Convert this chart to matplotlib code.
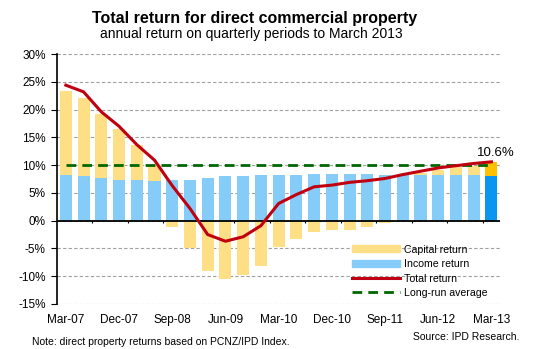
import matplotlib.pyplot as plt
import numpy as np
from matplotlib.patches import Patch
from matplotlib.lines import Line2D

plt.rcParams['font.family'] = ['Liberation Sans', 'DejaVu Sans']

quarters = ['Mar-07', 'Jun-07', 'Sep-07', 'Dec-07', 'Mar-08', 'Jun-08', 'Sep-08',
            'Dec-08', 'Mar-09', 'Jun-09', 'Sep-09', 'Dec-09', 'Mar-10', 'Jun-10',
            'Sep-10', 'Dec-10', 'Mar-11', 'Jun-11', 'Sep-11', 'Dec-11', 'Mar-12',
            'Jun-12', 'Sep-12', 'Dec-12', 'Mar-13']

# annual returns, %
income = [8.2, 8.0, 7.6, 7.4, 7.4, 7.1, 7.4, 7.4, 7.6, 8.0, 8.0, 8.2, 8.2,
          8.2, 8.4, 8.4, 8.4, 8.4, 8.2, 8.2, 8.2, 8.2, 8.2, 8.2, 8.0]
capital = [15.1, 14.1, 11.6, 9.1, 6.2, 2.9, -1.1, -4.9, -9.0, -10.5, -9.8,
           -8.1, -4.7, -3.3, -2.0, -1.6, -1.6, -1.1, -0.4, 0.0, 0.3, 0.9,
           1.4, 1.6, 2.6]
total = [24.4, 23.2, 19.6, 17.0, 13.7, 10.9, 6.3, 2.2, -2.5, -3.7, -2.9,
         -0.9, 3.1, 4.7, 6.1, 6.4, 6.9, 7.2, 7.6, 8.3, 8.9, 9.5, 9.9, 10.3, 10.6]
long_run_avg = 10.0

x = np.arange(len(quarters))
income = np.array(income)
capital = np.array(capital)

fig = plt.figure(figsize=(5.5, 3.49), dpi=100)
ax = fig.add_axes([0.1036, 0.129, 0.806, 0.716])

inc_col = ['#85CCF9'] * (len(x) - 1) + ['#0A96F0']
cap_col = ['#FFDF85'] * (len(x) - 1) + ['#FFC000']

# capital stacks on top of income when positive, hangs below zero when negative
cap_bottom = np.where(capital >= 0, income, 0)
ax.bar(x, income, width=0.68, color=inc_col, zorder=2)
ax.bar(x, capital, width=0.68, bottom=cap_bottom, color=cap_col, zorder=2)

ax.plot(x, total, color='#C00010', lw=2.2, zorder=4)
ax.plot(x, [long_run_avg] * len(x), color='#006600', lw=2.0,
        dashes=(3.5, 2.2), zorder=3)

ax.annotate('%.1f%%' % total[-1], (x[-1], total[-1]), xytext=(3.5, 2),
            textcoords='offset points', ha='center', va='bottom', fontsize=9.5)

ax.set_xlim(-0.5, len(x) - 0.5)
ax.set_ylim(-15, 30)
ax.set_yticks(np.arange(-15, 31, 5))
ax.set_yticklabels(['%d%%' % v for v in range(-15, 31, 5)], fontsize=8.5)
ax.set_xticks(x[::3])
ax.set_xticklabels(quarters[::3], fontsize=8.5)
ax.tick_params(axis='x', length=0, pad=7)
ax.tick_params(axis='y', length=4, width=0.8, pad=4)

ax.grid(axis='y', color='#A0A0A0', ls=(0, (3, 2)), lw=0.8, zorder=0)
for s in ['top', 'right', 'bottom']:
    ax.spines[s].set_visible(False)
ax.spines['left'].set_linewidth(1.2)
ax.axhline(0, color='black', lw=1.3, zorder=3)
ax.vlines(np.arange(1.5, len(x), 2), -0.5, 0, color='black', lw=0.8, zorder=3)

# legend sits in the lower right, over the gridlines
handles = [Patch(color='#FFDF85'), Patch(color='#85CCF9'),
           Line2D([], [], color='#C00010', lw=2.2),
           Line2D([], [], color='#006600', lw=2.0, dashes=(3.5, 2.2))]
labels = ['Capital return', 'Income return', 'Total return', 'Long-run average']
ax.legend(handles, labels, loc='lower right', bbox_to_anchor=(0.992, -0.014),
          frameon=False, fontsize=7.6, handlelength=4.5, handleheight=0.65,
          handletextpad=0.4, labelspacing=0.42)

fig.text(0.462, 0.948, 'Total return for direct commercial property',
         ha='center', va='center', fontsize=11.5, fontweight='bold')
fig.text(0.457, 0.903, 'annual return on quarterly periods to March 2013',
         ha='center', va='center', fontsize=10)
fig.text(0.058, 0.02, 'Note: direct property returns based on PCNZ/IPD Index.',
         ha='left', va='center', fontsize=7.5)
fig.text(0.945, 0.035, 'Source: IPD Research.', ha='right', va='center',
         fontsize=7.5)

fig.savefig('out.png', dpi=100)
